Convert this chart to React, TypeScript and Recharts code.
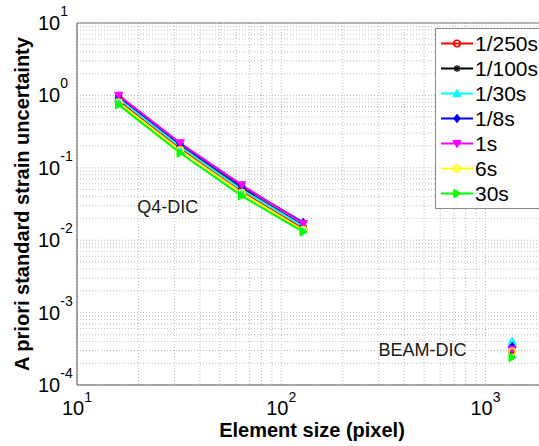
import React from 'react';
import {
  ComposedChart,
  Line,
  XAxis,
  YAxis,
  CartesianGrid,
  Legend,
  ReferenceDot,
  ReferenceLine,
  Label,
} from 'recharts';

const FONT = '"Liberation Sans", Arial, Helvetica, sans-serif';

// ---- data ----
const SERIES_NAMES = ['1/250s', '1/100s', '1/30s', '1/8s', '1s', '6s', '30s'];
const SERIES_COLORS = ['#ff0000', '#000000', '#00ffff', '#0000ff', '#ff00ff', '#ffff00', '#00ff00'];
const SERIES_MARKERS = ['circle', 'star', 'triangleUp', 'diamond', 'triangleDown', 'circle', 'triangleRight'];

const Q4_SIZES = [16, 32, 64, 128];
const Q4_1_250 = [0.85, 0.185, 0.047, 0.0145];
const Q4_1_100 = [0.93, 0.2, 0.052, 0.016];
const Q4_1_30 = [0.9, 0.195, 0.05, 0.0155];
const Q4_1_8 = [0.98, 0.215, 0.056, 0.0176];
const Q4_1 = [1.0, 0.22, 0.058, 0.017];
const Q4_6 = [0.8, 0.175, 0.045, 0.0138];
const Q4_30 = [0.74, 0.16, 0.041, 0.013];
const Q4_VALUES = [Q4_1_250, Q4_1_100, Q4_1_30, Q4_1_8, Q4_1, Q4_6, Q4_30];

const BEAM_SIZE = 1350;
const BEAM_VALUES = [2.95e-4, 2.8e-4, 4.0e-4, 3.4e-4, 3.1e-4, 2.9e-4, 2.4e-4];

const X_TICKS = [10, 20, 30, 40, 50, 60, 70, 80, 90, 100, 200, 300, 400, 500, 600, 700, 800, 900, 1000, 2000];
const Y_TICKS = [
  1e-4, 2e-4, 3e-4, 4e-4, 5e-4, 6e-4, 7e-4, 8e-4, 9e-4,
  1e-3, 2e-3, 3e-3, 4e-3, 5e-3, 6e-3, 7e-3, 8e-3, 9e-3,
  1e-2, 2e-2, 3e-2, 4e-2, 5e-2, 6e-2, 7e-2, 8e-2, 9e-2,
  1e-1, 2e-1, 3e-1, 4e-1, 5e-1, 6e-1, 7e-1, 8e-1, 9e-1,
  1, 2, 3, 4, 5, 6, 7, 8, 9, 10,
];

const ANNOTATION_TEXT = ['Q4-DIC', 'BEAM-DIC'];
const ANNOTATION_X = [19.7, 299];
const ANNOTATION_Y = [0.0286, 3.03e-4];

const X_LABEL = 'Element size (pixel)';
const Y_LABEL = 'A priori standard strain uncertainty';

// ---- helpers ----
const isDecade = (v: number) => Math.abs(Math.log10(v) - Math.round(Math.log10(v))) < 1e-6;

function Marker({ cx, cy, kind, color }: { cx: number; cy: number; kind: string; color: string }) {
  if (cx == null || cy == null || Number.isNaN(cx) || Number.isNaN(cy)) return null;
  const s = 4.2;
  switch (kind) {
    case 'circle':
      return <circle cx={cx} cy={cy} r={3.2} fill="none" stroke={color} strokeWidth={1.6} />;
    case 'star':
      return (
        <g stroke={color} strokeWidth={1.3}>
          <line x1={cx - 3.5} y1={cy} x2={cx + 3.5} y2={cy} />
          <line x1={cx} y1={cy - 3.5} x2={cx} y2={cy + 3.5} />
          <line x1={cx - 2.5} y1={cy - 2.5} x2={cx + 2.5} y2={cy + 2.5} />
          <line x1={cx - 2.5} y1={cy + 2.5} x2={cx + 2.5} y2={cy - 2.5} />
        </g>
      );
    case 'triangleUp':
      return (
        <polygon
          points={`${cx},${cy - s} ${cx - s},${cy + s * 0.75} ${cx + s},${cy + s * 0.75}`}
          fill={color}
          stroke={color}
          strokeWidth={1}
        />
      );
    case 'triangleDown':
      return (
        <polygon
          points={`${cx},${cy + s} ${cx - s},${cy - s * 0.75} ${cx + s},${cy - s * 0.75}`}
          fill={color}
          stroke={color}
          strokeWidth={1}
        />
      );
    case 'triangleRight':
      return (
        <polygon
          points={`${cx + s},${cy} ${cx - s * 0.75},${cy - s} ${cx - s * 0.75},${cy + s}`}
          fill={color}
          stroke={color}
          strokeWidth={1}
        />
      );
    case 'diamond':
      return (
        <polygon
          points={`${cx},${cy - s} ${cx + s * 0.8},${cy} ${cx},${cy + s} ${cx - s * 0.8},${cy}`}
          fill={color}
          stroke={color}
          strokeWidth={1}
        />
      );
    default:
      return null;
  }
}

const XTick = (props: any) => {
  const { x, y, payload } = props;
  const v = payload.value;
  if (!isDecade(v)) return <g />;
  const e = Math.round(Math.log10(v));
  return (
    <text x={x} y={y + 22} textAnchor="middle" fontFamily={FONT} fontSize={20} fill="#000">
      10
      <tspan dy={-13} fontSize={14}>
        {e}
      </tspan>
    </text>
  );
};

const YTick = (props: any) => {
  const { x, y, payload } = props;
  const v = payload.value;
  if (!isDecade(v)) return <g />;
  const e = Math.round(Math.log10(v));
  return (
    <text x={x - 31} y={y + 7} textAnchor="start" fontFamily={FONT} fontSize={20} fill="#000">
      10
      <tspan dy={-14} fontSize={14}>
        {e}
      </tspan>
    </text>
  );
};

const LegendBox = () => (
  <div
    style={{
      border: '1px solid #8a8a8a',
      background: '#fff',
      padding: '2px 0',
      width: 130,
      fontFamily: FONT,
      boxSizing: 'border-box',
    }}
  >
    {SERIES_NAMES.map((n, i) => (
      <div key={n} style={{ display: 'flex', alignItems: 'center', height: 25 }}>
        <svg width={39} height={25} style={{ display: 'block', flexShrink: 0 }}>
          <line x1={5} x2={37} y1={12.5} y2={12.5} stroke={SERIES_COLORS[i]} strokeWidth={2} />
          <Marker cx={21} cy={12.5} kind={SERIES_MARKERS[i]} color={SERIES_COLORS[i]} />
        </svg>
        <span style={{ fontSize: 21, color: '#000', lineHeight: '25px', whiteSpace: 'nowrap' }}>{n}</span>
      </div>
    ))}
  </div>
);

const YLabelContent = (props: any) => {
  const vb = props.viewBox || { x: 0, y: 23, width: 77, height: 362 };
  const cx = vb.x + 22;
  const cy = vb.y + vb.height / 2;
  return (
    <text
      x={cx}
      y={cy}
      transform={`rotate(-90 ${cx} ${cy})`}
      textAnchor="middle"
      dominantBaseline="central"
      fontFamily={FONT}
      fontSize={20}
      fontWeight="bold"
      fill="#000"
    >
      {Y_LABEL}
    </text>
  );
};

const XLabelContent = (props: any) => {
  const vb = props.viewBox || { x: 77, y: 385, width: 470, height: 61 };
  return (
    <text
      x={vb.x + vb.width / 2}
      y={437}
      textAnchor="middle"
      fontFamily={FONT}
      fontSize={20}
      fontWeight="bold"
      fill="#000"
    >
      {X_LABEL}
    </text>
  );
};

export default function App() {
  const q4Data = Q4_VALUES.map((vals) => Q4_SIZES.map((x, j) => ({ x, v: vals[j] })));
  const beamData = BEAM_VALUES.map((v) => [{ x: BEAM_SIZE, v }]);

  return (
    <div
      style={{
        position: 'absolute',
        left: 0,
        top: 0,
        width: 539,
        height: 446,
        overflow: 'hidden',
        background: '#fff',
      }}
    >
      <ComposedChart width={547} height={446} margin={{ top: 23, right: 0, left: 0, bottom: 0 }}>
        <CartesianGrid stroke="#bcbcbc" strokeDasharray="1 2" strokeWidth={1} />
        <XAxis
          dataKey="x"
          type="number"
          scale="log"
          domain={[10, 2000]}
          allowDataOverflow
          ticks={X_TICKS}
          interval={0}
          tick={<XTick />}
          tickLine={false}
          axisLine={{ stroke: '#555' }}
          height={61}
        >
          <Label content={<XLabelContent />} />
        </XAxis>
        <YAxis
          type="number"
          scale="log"
          domain={[1e-4, 10]}
          allowDataOverflow
          ticks={Y_TICKS}
          interval={0}
          tick={<YTick />}
          tickLine={false}
          axisLine={{ stroke: '#555' }}
          width={77}
        >
          <Label content={<YLabelContent />} />
        </YAxis>
        <ReferenceLine y={10} stroke="#777" strokeWidth={1} />
        {q4Data.map((d, i) => (
          <Line
            key={'q4-' + i}
            data={d}
            dataKey="v"
            name={SERIES_NAMES[i]}
            stroke={SERIES_COLORS[i]}
            strokeWidth={2}
            isAnimationActive={false}
            dot={(p: any) => (
              <Marker key={'d' + i + '-' + p.index} cx={p.cx} cy={p.cy} kind={SERIES_MARKERS[i]} color={SERIES_COLORS[i]} />
            )}
            activeDot={false}
          />
        ))}
        {beamData.map((d, i) => (
          <Line
            key={'beam-' + i}
            data={d}
            dataKey="v"
            name={SERIES_NAMES[i] + ' BEAM'}
            legendType="none"
            stroke={SERIES_COLORS[i]}
            strokeWidth={2}
            isAnimationActive={false}
            dot={(p: any) => (
              <Marker key={'b' + i + '-' + p.index} cx={p.cx} cy={p.cy} kind={SERIES_MARKERS[i]} color={SERIES_COLORS[i]} />
            )}
            activeDot={false}
          />
        ))}
        {ANNOTATION_TEXT.map((t, i) => (
          <ReferenceDot
            key={t}
            x={ANNOTATION_X[i]}
            y={ANNOTATION_Y[i]}
            r={0}
            shape={(p: any) => (
              <text
                x={p.cx}
                y={p.cy}
                textAnchor="start"
                dominantBaseline="central"
                fontFamily={FONT}
                fontSize={18}
                fill="#1a1a1a"
              >
                {t}
              </text>
            )}
          />
        ))}
        <Legend
          content={<LegendBox />}
          layout="vertical"
          align="center"
          verticalAlign="middle"
          wrapperStyle={{ left: 435, top: 28, width: 'auto', height: 'auto' }}
        />
      </ComposedChart>
    </div>
  );
}
